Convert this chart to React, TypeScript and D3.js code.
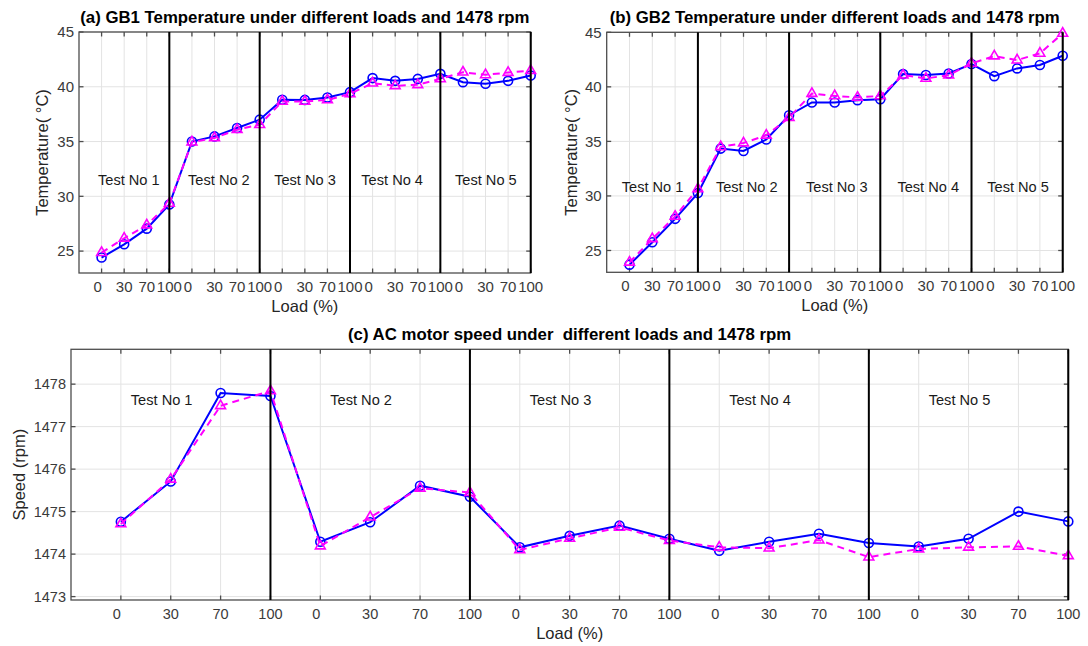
import React from "react";
import * as d3 from "d3";

// ---------- data ----------
const LOAD_LABELS = ["0", "30", "70", "100"];
const TEST_NAMES = ["Test No 1", "Test No 2", "Test No 3", "Test No 4", "Test No 5"];
const TEMP_TICKS = [25, 30, 35, 40, 45];
const SPEED_TICKS = [1473, 1474, 1475, 1476, 1477, 1478];

// GB1 temperature (°C), 5 tests x 4 loads
const gb1Circle = [24.41, 25.62, 27.05, 29.25, 35.0, 35.47, 36.24, 37.0, 38.81, 38.8, 39.02, 39.51, 40.79, 40.54, 40.72, 41.18, 40.42, 40.27, 40.54, 41.03];
const gb1Triangle = [24.86, 26.17, 27.38, 29.35, 34.95, 35.33, 36.08, 36.54, 38.66, 38.66, 38.8, 39.35, 40.33, 40.09, 40.18, 40.72, 41.33, 41.09, 41.3, 41.48];

// GB2 temperature (°C)
const gb2Circle = [23.7, 25.75, 27.9, 30.26, 34.34, 34.12, 35.17, 37.4, 38.57, 38.57, 38.78, 38.87, 41.17, 41.08, 41.23, 42.09, 40.98, 41.69, 42.0, 42.85];
const gb2Triangle = [23.92, 26.07, 28.12, 30.66, 34.5, 34.85, 35.56, 37.18, 39.39, 39.17, 39.03, 39.17, 41.07, 40.77, 41.07, 42.15, 42.82, 42.45, 43.07, 44.9];

// AC motor speed (rpm)
const speedCircle = [1474.76, 1475.71, 1477.79, 1477.72, 1474.29, 1474.75, 1475.61, 1475.35, 1474.16, 1474.43, 1474.67, 1474.36, 1474.08, 1474.29, 1474.48, 1474.26, 1474.18, 1474.36, 1475.0, 1474.77];
const speedTriangle = [1474.71, 1475.76, 1477.49, 1477.84, 1474.19, 1474.87, 1475.55, 1475.45, 1474.1, 1474.37, 1474.63, 1474.32, 1474.16, 1474.14, 1474.33, 1473.93, 1474.12, 1474.16, 1474.18, 1473.96];

// test-label anchors (data units: x = left edge, y = vertical middle)
const gb1LabelX = [0.84, 4.83, 8.64, 12.5, 16.65];
const gb1LabelY = 31.5;
const gb2LabelX = [0.66, 4.79, 8.74, 12.75, 16.69];
const gb2LabelY = 30.8;
const speedLabelX = [1.2, 5.2, 9.2, 13.2, 17.2];
const speedLabelY = 1477.63;

const FONT = "'Liberation Sans', Arial, Helvetica, sans-serif";

type PanelProps = {
  left: number; top: number; right: number; bottom: number;
  yDomain: [number, number]; yTicks: number[];
  title: string; yLabel: string; yLabelOffset: number;
  circle: number[]; triangle: number[];
  labelX: number[]; labelY: number;
  tickFont: number;
};

function Panel(p: PanelProps) {
  const n = p.circle.length;
  const x = d3.scaleLinear().domain([0, n]).range([p.left, p.right]);
  const y = d3.scaleLinear().domain(p.yDomain).range([p.bottom, p.top]);
  const idx = d3.range(1, n + 1);
  const line = d3.line<number>().x((_, i) => x(i + 1)).y((v) => y(v));
  const tri = d3.symbol().type(d3.symbolTriangle).size(42)() as string;
  const separators = idx.filter((i) => i % LOAD_LABELS.length === 0);
  const axisColor = "#4d4d4d";
  const tickLen = 4.5;
  return (
    <g>
      {/* grid */}
      {idx.map((i) => (
        <line key={"gx" + i} x1={x(i)} x2={x(i)} y1={p.top} y2={p.bottom} stroke="#e3e3e3" strokeWidth={1} />
      ))}
      {p.yTicks.map((t) => (
        <line key={"gy" + t} x1={p.left} x2={p.right} y1={y(t)} y2={y(t)} stroke="#e3e3e3" strokeWidth={1} />
      ))}
      {/* box */}
      <rect x={p.left} y={p.top} width={p.right - p.left} height={p.bottom - p.top} fill="none" stroke={axisColor} strokeWidth={1.3} />
      {/* ticks */}
      {idx.map((i) => (
        <g key={"tx" + i}>
          <line x1={x(i)} x2={x(i)} y1={p.bottom} y2={p.bottom - tickLen} stroke={axisColor} strokeWidth={1.3} />
          <line x1={x(i)} x2={x(i)} y1={p.top} y2={p.top + tickLen} stroke={axisColor} strokeWidth={1.3} />
          <text x={x(i) + (LOAD_LABELS[(i - 1) % 4] === "0" ? -4 : 0)} y={p.bottom + 19} textAnchor="middle" fontSize={p.tickFont} fill="#3a3a3a" fontFamily={FONT}>
            {LOAD_LABELS[(i - 1) % LOAD_LABELS.length]}
          </text>
        </g>
      ))}
      {p.yTicks.map((t) => (
        <g key={"ty" + t}>
          <line x1={p.left} x2={p.left + tickLen} y1={y(t)} y2={y(t)} stroke={axisColor} strokeWidth={1.3} />
          <line x1={p.right} x2={p.right - tickLen} y1={y(t)} y2={y(t)} stroke={axisColor} strokeWidth={1.3} />
          <text x={p.left - 5} y={y(t)} dy="0.36em" textAnchor="end" fontSize={p.tickFont} fill="#3a3a3a" fontFamily={FONT}>
            {t}
          </text>
        </g>
      ))}
      {/* series: circles (blue solid) */}
      <path d={line(p.circle) as string} fill="none" stroke="#0000ff" strokeWidth={2} />
      {p.circle.map((v, i) => (
        <circle key={"c" + i} cx={x(i + 1)} cy={y(v)} r={4.5} fill="none" stroke="#0000ff" strokeWidth={1.6} />
      ))}
      {/* series: triangles (magenta dashed) */}
      <path d={line(p.triangle) as string} fill="none" stroke="#ff00ff" strokeWidth={2} strokeDasharray="7,5" />
      {p.triangle.map((v, i) => (
        <path key={"t" + i} d={tri} transform={`translate(${x(i + 1)},${y(v)})`} fill="none" stroke="#ff00ff" strokeWidth={1.6} />
      ))}
      {/* separators */}
      {separators.map((i) => (
        <line key={"s" + i} x1={x(i)} x2={x(i)} y1={p.top} y2={p.bottom} stroke="#000" strokeWidth={2} />
      ))}
      {/* test labels */}
      {TEST_NAMES.map((name, k) => (
        <text key={name} x={x(p.labelX[k])} y={y(p.labelY)} dy="0.36em" fontSize={14.6} fill="#1a1a1a" fontFamily={FONT}>
          {name}
        </text>
      ))}
      {/* title & labels */}
      <text x={(p.left + p.right) / 2} y={p.top - 9} textAnchor="middle" fontSize={16.8} fontWeight="bold" fill="#000" fontFamily={FONT} style={{ whiteSpace: "pre" }}>
        {p.title}
      </text>
      <text x={(p.left + p.right) / 2} y={p.bottom + 39} textAnchor="middle" fontSize={16.5} fill="#262626" fontFamily={FONT}>
        Load (%)
      </text>
      <text transform={`translate(${p.left - p.yLabelOffset},${(p.top + p.bottom) / 2}) rotate(-90)`} textAnchor="middle" fontSize={16.5} fill="#262626" fontFamily={FONT}>
        {p.yLabel}
      </text>
    </g>
  );
}

export default function App() {
  return (
    <svg width={1088} height={646} style={{ position: "absolute", left: 0, top: 0, background: "#fff" }} xmlns="http://www.w3.org/2000/svg">
      <rect width={1088} height={646} fill="#fff" />
      <Panel left={79} top={32} right={530.7} bottom={273} yDomain={[23, 45]} yTicks={TEMP_TICKS}
        title="(a) GB1 Temperature under different loads and 1478 rpm" yLabel="Temperature( °C)" yLabelOffset={31}
        circle={gb1Circle} triangle={gb1Triangle} labelX={gb1LabelX} labelY={gb1LabelY} tickFont={15} />
      <Panel left={606.7} top={32.3} right={1062.7} bottom={272.3} yDomain={[23, 45]} yTicks={TEMP_TICKS}
        title="(b) GB2 Temperature under different loads and 1478 rpm" yLabel="Temperature( °C)" yLabelOffset={30}
        circle={gb2Circle} triangle={gb2Triangle} labelX={gb2LabelX} labelY={gb2LabelY} tickFont={15} />
      <Panel left={71} top={349.3} right={1068.3} bottom={600} yDomain={[1472.92, 1478.82]} yTicks={SPEED_TICKS}
        title="(c) AC motor speed under  different loads and 1478 rpm" yLabel="Speed (rpm)" yLabelOffset={46.5}
        circle={speedCircle} triangle={speedTriangle} labelX={speedLabelX} labelY={speedLabelY} tickFont={14.5} />
    </svg>
  );
}
